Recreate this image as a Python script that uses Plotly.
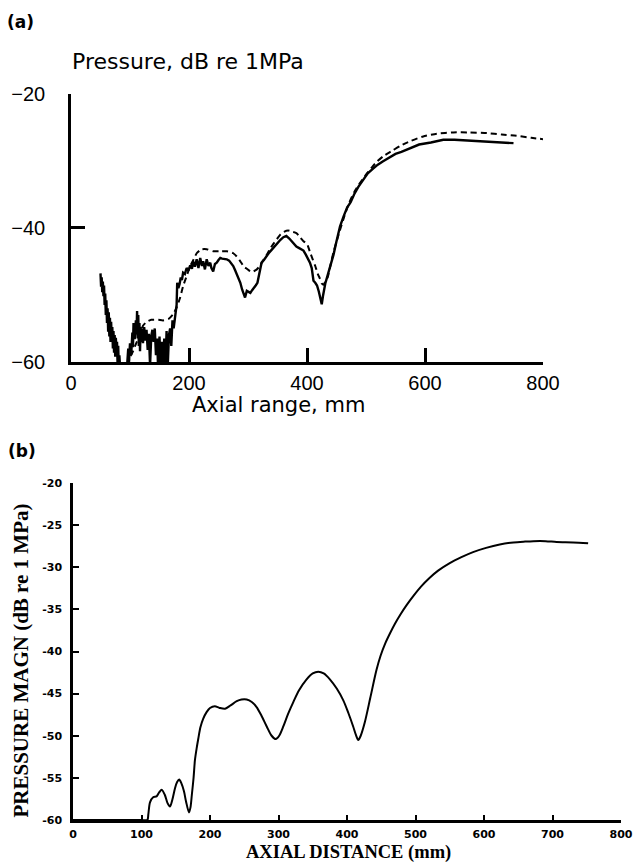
import plotly.graph_objects as go

W, H = 634, 866

# ---------------- Panel (a) data ----------------
a_meas_x = [50, 51, 52, 53, 54, 55, 56, 57, 58, 59, 60, 61, 62, 63, 64, 65, 66, 67, 68, 69,
            70, 71, 72, 73, 74, 75, 76, 77, 78, 79, 80, 81, 82,
            84, 86, 88, 90, 92, 94, 96, 97, 98, 100, 102, 104, 105, 106, 108, 110, 111,
            112, 113, 114, 115, 116, 117, 118, 119, 120, 122, 124, 126, 128, 130, 132, 134,
            136, 138, 140, 142, 144, 146, 148, 150, 152, 154, 156, 158, 160, 162, 164, 166,
            168, 170, 172, 174, 176, 178,
            179, 180, 182, 184, 186, 188, 190, 193, 196, 199, 202, 205, 207, 210, 213, 216,
            219, 222, 224, 227, 230, 233, 236, 238, 241, 244, 247, 250, 253, 256, 260, 264,
            268, 272, 275, 278, 281, 284, 287, 290, 292, 295, 298, 301, 304, 307, 310, 313,
            316, 320, 323, 327, 331, 335, 340, 345, 350, 355, 360, 365, 370, 374, 378, 382,
            386, 390, 394, 398, 402, 405, 408, 411, 414, 417, 420, 423, 425, 427, 429, 431,
            433, 436, 440, 445, 450, 456, 462, 468, 474, 480, 487, 495, 503, 512, 520, 529,
            540, 550, 560, 575, 590, 610, 631, 650, 670, 690, 710, 730, 750]
a_meas_y = [-46.8, -48.8, -47.4, -49.6, -48.0, -50.2, -48.6, -51.5, -49.8, -53.0, -50.8, -54.2,
            -52.0, -55.5, -52.6, -56.2, -53.4, -57.0, -54.0, -56.4,
            -54.8, -58.0, -55.4, -58.6, -56.0, -59.2, -56.4, -58.2, -57.0, -60.5, -57.6, -61.0, -59.0,
            -62.0, -60.2, -63.0, -61.5, -63.0, -62.0, -59.5, -58.0, -60.5, -57.2, -59.0, -55.6,
            -57.8, -54.2, -56.6, -53.8, -55.9,
            -52.4, -56.5, -53.0, -57.6, -54.2, -58.4, -54.8, -57.0, -55.0, -57.2, -54.8, -56.8,
            -55.2, -58.2, -55.8, -60.5,
            -56.2, -55.2, -57.0, -55.0, -59.0, -56.5, -62.0, -56.2, -60.5, -57.0, -62.0, -56.5,
            -61.0, -55.4, -60.5, -56.0,
            -55.0, -57.6, -53.8, -55.0, -53.2, -52.4,
            -51.5, -48.2, -49.0, -48.4, -47.4, -47.8, -46.7, -46.9, -46.0, -46.4, -45.6, -46.1,
            -45.0, -45.8, -44.7, -46.0,
            -44.5, -45.7, -45.0, -46.2, -44.7, -45.7, -45.2, -46.0, -46.5, -45.4, -45.2, -44.8,
            -44.5, -44.6, -44.6, -44.7,
            -44.9, -45.3, -45.7, -46.3, -46.9, -47.6, -48.2, -49.2, -49.7, -50.4, -49.4, -49.6,
            -49.7, -49.3, -49.0, -48.6,
            -48.2, -46.4, -45.2, -44.8, -44.2, -43.8, -43.3, -42.8, -42.2, -41.8, -41.4, -41.2,
            -41.6, -42.0, -42.4, -42.8,
            -43.0, -43.2, -43.4, -44.0, -44.6, -45.2, -46.0, -47.9, -48.2, -48.6, -49.5, -50.6,
            -51.4, -50.2, -49.0, -48.3,
            -47.7, -46.8, -45.5, -44.0, -42.0, -39.8, -38.3, -37.0, -36.2, -35.0, -33.9, -32.8,
            -31.9, -31.2, -30.6, -30.1,
            -29.5, -29.0, -28.7, -28.2, -27.6, -27.3, -26.9, -26.9, -27.0, -27.0, -27.1, -27.2, -27.4]

a_model_x = [96, 100, 105, 111, 117, 122, 126, 131, 136, 140,
             148, 156, 165, 173, 179, 185, 190, 196, 202, 208,
             213, 218, 222, 230, 241, 252, 264, 275, 281, 287,
             293, 298, 304, 309, 315, 320, 326, 332, 337, 343,
             349, 355, 361, 368, 375, 382, 388, 394, 400, 405,
             410, 414, 418, 422, 425, 428, 431, 435, 440, 445,
             452, 461, 470, 480, 490, 500, 510, 518, 530, 545,
             558, 575, 597, 620, 648, 675, 705, 730, 755, 780, 800]
a_model_y = [-60.5, -59.3, -58.4, -57.1, -55.8, -54.6, -54.2, -53.9, -53.7, -53.7,
             -53.7, -53.8, -53.6, -52.9, -51.9, -50.4, -48.7, -47.2, -45.7, -44.7,
             -43.8, -43.4, -43.2, -43.2, -43.5, -43.5, -43.5, -43.8, -44.3, -45.0,
             -45.8, -46.1, -46.5, -46.5, -46.2, -45.7, -44.8, -44.0, -43.2, -42.4,
             -41.7, -41.0, -40.6, -40.4, -40.6, -40.8, -41.4, -42.0, -42.4, -43.6,
             -44.8, -45.7, -46.8, -47.6, -48.3, -48.5, -48.0, -47.4, -45.5, -43.6,
             -41.5, -38.9, -36.6, -34.7, -33.3, -32.1, -31.0, -30.2, -29.3, -28.5,
             -27.8, -27.1, -26.4, -26.0, -25.8, -25.8, -25.9, -26.1, -26.3, -26.6, -26.8]

a_xticks = [0, 200, 400, 600, 800]
a_yticks = [-60, -40, -20]
a_yticktext = ["\u221260", "\u221240", "\u221220"]

# ---------------- Panel (b) data ----------------
b_x = [0, 50, 100, 108.5, 110, 112.4, 117, 122, 126, 129.5, 134, 138, 141.6, 145, 149, 152,
       155, 158, 162, 165, 169.3, 171.5, 173.5, 176, 178, 180.5, 183, 186, 190, 195, 200,
       207, 214, 222, 230, 239, 246, 253.6, 261, 268, 275, 282.8, 290, 296, 301, 307, 314,
       321.6, 330, 341, 350, 358, 366, 375, 385, 394.6, 402, 409, 413, 416.5, 420, 426,
       434, 443, 449, 456, 463, 470, 478, 487, 497, 508, 520, 533, 550, 567, 584, 603,
       623, 643, 660, 672, 690, 706, 730, 752]
b_y = [-60, -60, -60, -60, -59.3, -57.9, -57.3, -57.2, -56.7, -56.4, -57.0, -58.0, -58.4,
       -57.6, -56.2, -55.5, -55.2, -55.6, -56.6, -57.8, -59.1, -58.5, -57.0, -55.0, -52.9,
       -51.5, -50.3, -49.0, -48.0, -47.2, -46.7, -46.5, -46.7, -46.8, -46.4, -45.9, -45.7,
       -45.7, -46.0, -46.6, -47.6, -48.9, -50.0, -50.4, -50.0, -48.9, -47.4, -46.0, -44.6,
       -43.3, -42.6, -42.4, -42.6, -43.3, -44.4, -45.8, -47.3, -48.9, -49.9, -50.5, -50.0,
       -48.4, -45.5, -42.2, -40.5, -39.0, -37.8, -36.7, -35.6, -34.5, -33.4, -32.3, -31.3,
       -30.4, -29.5, -28.8, -28.2, -27.7, -27.3, -27.05, -26.95, -26.9, -26.9, -27.0,
       -27.05, -27.15]

b_xticks = [0, 100, 200, 300, 400, 500, 600, 700, 800]
b_yticks = [-60, -55, -50, -45, -40, -35, -30, -25, -20]
b_yticktext = ["-60", "-55", "-50", "-45", "-40", "-35", "-30", "-25", "-20"]

assert len(a_meas_x) == len(a_meas_y)
assert len(a_model_x) == len(a_model_y)
assert len(b_x) == len(b_y)

fig = go.Figure()
fig.add_trace(go.Scatter(x=a_meas_x, y=a_meas_y, mode="lines", xaxis="x", yaxis="y",
                         line=dict(color="black", width=2.4), showlegend=False))
fig.add_trace(go.Scatter(x=a_model_x, y=a_model_y, mode="lines", xaxis="x", yaxis="y",
                         line=dict(color="black", width=2.0, dash="6px,4px", shape="spline",
                                   smoothing=0.6), showlegend=False))
fig.add_trace(go.Scatter(x=b_x, y=b_y, mode="lines", xaxis="x2", yaxis="y2",
                         line=dict(color="black", width=2.0, shape="spline", smoothing=0.8),
                         showlegend=False))

def px(x):
    return x / W

def py(y):
    return 1 - y / H

sans = "DejaVu Sans"
tick_sans = "Liberation Sans"
serif = "Liberation Serif"

fig.update_layout(
    width=W, height=H, margin=dict(l=0, r=0, t=0, b=0, autoexpand=False),
    paper_bgcolor="white", plot_bgcolor="white",
    xaxis=dict(domain=[px(71), px(543)], anchor="y", range=[0, 800], automargin=False,
               tickvals=a_xticks, ticks="inside", ticklen=14, tickwidth=2.5,
               tickcolor="black", showline=True, linewidth=2.5, linecolor="black",
               showgrid=False, zeroline=False, ticklabelstandoff=1,
               tickfont=dict(family=tick_sans, size=20, color="black")),
    yaxis=dict(domain=[py(362), py(93.5)], anchor="x", range=[-60, -20], automargin=False,
               tickvals=a_yticks, ticktext=a_yticktext, ticks="inside", ticklen=14,
               tickwidth=2.5, tickcolor="black", showline=True, linewidth=2.5,
               linecolor="black", showgrid=False, zeroline=False, ticklabelstandoff=19,
               tickfont=dict(family=tick_sans, size=20, color="black")),
    xaxis2=dict(domain=[px(73), px(621)], anchor="y2", range=[0, 800], automargin=False,
                tickvals=b_xticks, ticks="inside", ticklen=5, tickwidth=2,
                tickcolor="black", showline=True, linewidth=2.5, linecolor="black",
                showgrid=False, zeroline=False, ticklabelstandoff=2,
                tickfont=dict(family=sans, size=11, color="black", weight="bold")),
    yaxis2=dict(domain=[py(820), py(483)], anchor="x2", range=[-60, -20], automargin=False,
                tickvals=b_yticks, ticktext=b_yticktext, ticks="inside", ticklen=6,
                tickwidth=2, tickcolor="black", showline=True, linewidth=2.5,
                linecolor="black", showgrid=False, zeroline=False, ticklabelstandoff=6,
                tickfont=dict(family=sans, size=11, color="black", weight="bold")),
)

ann = [
    dict(text="<b>(a)</b>", x=px(20), y=py(22), font=dict(family=sans, size=17)),
    dict(text="Pressure, dB re 1MPa", x=px(188), y=py(62), font=dict(family=sans, size=22)),
    dict(text="Axial range, mm", x=px(278), y=py(405), font=dict(family=sans, size=21)),
    dict(text="<b>(b)</b>", x=px(22), y=py(451), font=dict(family=sans, size=17)),
    dict(text="<b>PRESSURE MAGN (dB re 1 MPa)</b>", x=px(20.5), y=py(661), textangle=-90,
         font=dict(family=serif, size=21)),
    dict(text="<b>AXIAL DISTANCE (mm)</b>", x=px(348), y=py(852),
         font=dict(family=serif, size=18.5)),
]
for a in ann:
    a.update(xref="paper", yref="paper", showarrow=False, xanchor="center", yanchor="middle")
    a["font"]["color"] = "black"
    fig.add_annotation(**a)

fig.write_html("out.html")
